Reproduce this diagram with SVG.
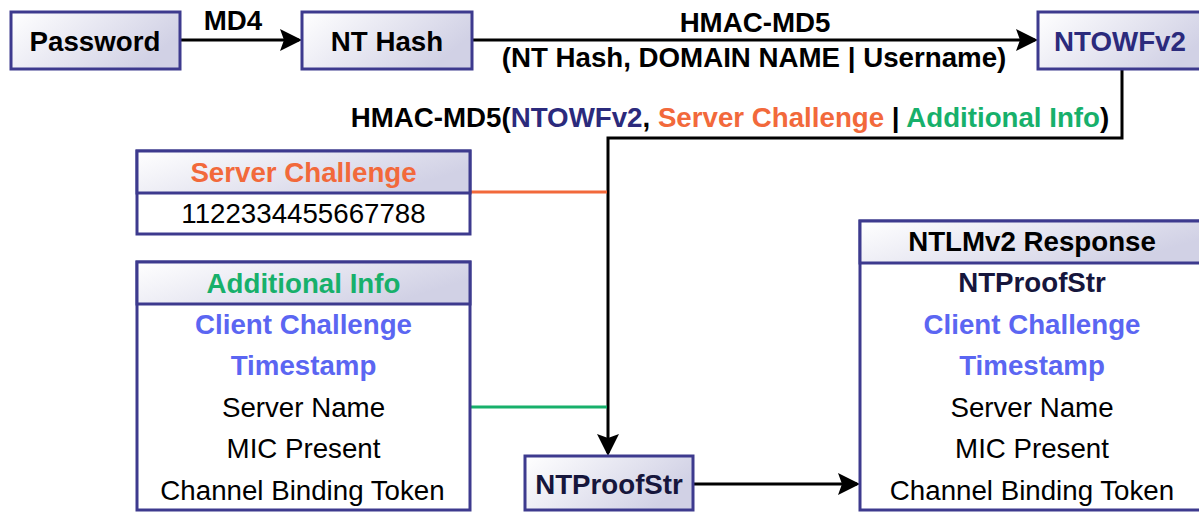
<svg xmlns="http://www.w3.org/2000/svg" width="1199" height="512" viewBox="0 0 1199 512">
  <defs>
    <linearGradient id="fillGrad" x1="0" y1="0" x2="1" y2="0.4">
      <stop offset="0" stop-color="#ffffff"/>
      <stop offset="1" stop-color="#d1d1e5"/>
    </linearGradient>
    <marker id="arrow" markerUnits="userSpaceOnUse" markerWidth="24" markerHeight="24" refX="19" refY="11" orient="auto">
      <path d="M0,0 L22,11 L0,22 L4,11 Z" fill="#000"/>
    </marker>
  </defs>
  <style>
    .hdr { fill: url(#fillGrad); stroke: #3d3a8e; stroke-width: 3; }
    .body { fill: #ffffff; stroke: #3d3a8e; stroke-width: 3; }
    .t { font-family: "Liberation Sans", Arial, sans-serif; font-size: 27.7px; text-anchor: middle; fill: #000; }
    .b { font-weight: bold; }
    .navy { fill: #2b2a7c; }
    .ink { fill: #16163c; }
    .orange { fill: #f2693b; }
    .green { fill: #17b06b; }
    .blue { fill: #5b66f2; }
    .wire { fill: none; stroke: #000; stroke-width: 3; }
    .wire-o { fill: none; stroke: #f2693b; stroke-width: 3; }
    .wire-g { fill: none; stroke: #17b06b; stroke-width: 3; }
  </style>

  <!-- connectors -->
  <g id="connectors">
    <line class="wire" x1="180" y1="40" x2="299" y2="40" marker-end="url(#arrow)"/>
    <line class="wire" x1="472" y1="40" x2="1035" y2="40" marker-end="url(#arrow)"/>
    <polyline class="wire" points="1122,69 1122,138 608,138 608,453" marker-end="url(#arrow)"/>
    <line class="wire-o" x1="470" y1="192" x2="607" y2="192"/>
    <line class="wire-g" x1="470" y1="407" x2="607" y2="407"/>
    <line class="wire" x1="693" y1="484" x2="857" y2="484" marker-end="url(#arrow)"/>
    <text class="t b" x="233" y="30">MD4</text>
    <text class="t b" x="755" y="32">HMAC-MD5</text>
    <text class="t b" x="754" y="67">(NT Hash, DOMAIN NAME | Username)</text>
    <text class="t b" x="730" y="127">HMAC-MD5(<tspan class="navy">NTOWFv2</tspan>, <tspan class="orange">Server Challenge</tspan> | <tspan class="green">Additional Info</tspan>)</text>
  </g>

  <!-- Password -->
  <g id="password">
    <rect class="hdr" x="11" y="12" width="169" height="57"/>
    <text class="t b" x="95" y="51">Password</text>
  </g>

  <!-- NT Hash -->
  <g id="nt-hash">
    <rect class="hdr" x="302" y="12" width="170" height="57"/>
    <text class="t b" x="387" y="51">NT Hash</text>
  </g>

  <!-- NTOWFv2 -->
  <g id="ntowfv2">
    <rect class="hdr" x="1038" y="12" width="172" height="57"/>
    <text class="t b navy" x="1120" y="51">NTOWFv2</text>
  </g>

  <!-- Server Challenge -->
  <g id="server-challenge">
    <rect class="body" x="137" y="151" width="333" height="83"/>
    <rect class="hdr" x="137" y="151" width="333" height="42"/>
    <text class="t b orange" x="303.5" y="182">Server Challenge</text>
    <text class="t" x="303.5" y="223">1122334455667788</text>
  </g>

  <!-- Additional Info -->
  <g id="additional-info">
    <rect class="body" x="137" y="262" width="333" height="248"/>
    <rect class="hdr" x="137" y="262" width="333" height="42"/>
    <text class="t b green" x="303.5" y="293">Additional Info</text>
    <text class="t b blue" x="303.5" y="334">Client Challenge</text>
    <text class="t b blue" x="303.5" y="375">Timestamp</text>
    <text class="t" x="303.5" y="417">Server Name</text>
    <text class="t" x="303.5" y="458">MIC Present</text>
    <text class="t" x="302.5" y="500">Channel Binding Token</text>
  </g>

  <!-- NTProofStr -->
  <g id="ntproofstr">
    <rect class="hdr" x="525" y="456" width="168" height="54"/>
    <text class="t b ink" x="609" y="494">NTProofStr</text>
  </g>

  <!-- NTLMv2 Response -->
  <g id="ntlmv2-response">
    <rect class="body" x="860" y="221" width="345" height="289"/>
    <rect class="hdr" x="860" y="221" width="345" height="42"/>
    <text class="t b" x="1032" y="251">NTLMv2 Response</text>
    <text class="t b ink" x="1032" y="292">NTProofStr</text>
    <text class="t b blue" x="1032" y="334">Client Challenge</text>
    <text class="t b blue" x="1032" y="375">Timestamp</text>
    <text class="t" x="1032" y="417">Server Name</text>
    <text class="t" x="1032" y="458">MIC Present</text>
    <text class="t" x="1032" y="500">Channel Binding Token</text>
  </g>
</svg>
